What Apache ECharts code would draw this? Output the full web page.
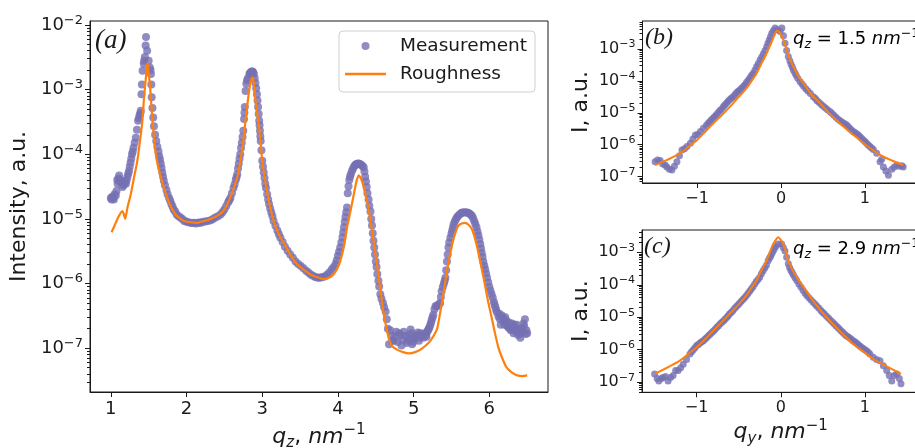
<!DOCTYPE html>
<html><head><meta charset="utf-8">
<script src="https://cdn.jsdelivr.net/npm/echarts@6/dist/echarts.min.js"></script>
<style>html,body{margin:0;padding:0;background:#fff}#c{width:915px;height:448px}</style>
</head><body><div id="c"></div>
<script>
// ---- data ----
const measA = [[1.00,2.1e-5],[1.01,2.0e-5],[1.02,2.2e-5],[1.03,2.1e-5],[1.04,2.0e-5],[1.05,2.4e-5],[1.066,2.3e-5],[1.075,2.7e-5],[1.085,4.0e-5],[1.09,3.5e-5],[1.10,4.2e-5],[1.11,4.7e-5],[1.12,3.8e-5],[1.13,4.0e-5],[1.14,3.6e-5],[1.154,3.1e-5],[1.165,3.3e-5],[1.18,3.5e-5],[1.19,3.8e-5],[1.20,3.5e-5],[1.21,4.0e-5],[1.22,4.5e-5],[1.23,5.0e-5],[1.24,5.5e-5],[1.25,6.4e-5],[1.26,7.4e-5],[1.27,8.5e-5],[1.28,1.0e-4],[1.29,1.1e-4],[1.30,1.26e-4],[1.315,1.5e-4],[1.33,1.8e-4],[1.345,2.4e-4],[1.36,3.3e-4],[1.37,3.6e-4],[1.38,4.0e-4],[1.39,4.3e-4],[1.396,4.7e-4],[1.405,8.5e-4],[1.41,1.2e-3],[1.42,1.95e-3],[1.435,2.5e-3],[1.44,2.8e-3],[1.45,3.2e-3],[1.46,4.8e-3],[1.465,6.5e-3],[1.48,4.0e-3],[1.50,2.8e-3],[1.515,2.2e-3],[1.525,2.0e-3],[1.53,1.74e-3],[1.535,1.2e-3],[1.54,7.6e-4],[1.55,5.2e-4],[1.56,3.7e-4],[1.57,2.7e-4],[1.585,2.0e-4],[1.60,1.6e-4],[1.615,1.3e-4],[1.63,1.1e-4],[1.64,9.3e-5],[1.65,8.2e-5],[1.66,7.1e-5],[1.67,6.1e-5],[1.68,5.2e-5],[1.69,4.5e-5],[1.70,3.9e-5],[1.715,3.3e-5],[1.735,2.8e-5],[1.75,2.4e-5],[1.77,2.1e-5],[1.785,1.9e-5],[1.80,1.7e-5],[1.815,1.55e-5],[1.83,1.4e-5],[1.85,1.3e-5],[1.87,1.17e-5],[1.895,1.1e-5],[1.92,1.05e-5],[1.945,1.0e-5],[1.97,9.3e-6],[1.995,9.1e-6],[2.02,8.9e-6],[2.055,8.7e-6],[2.075,8.6e-6],[2.10,8.7e-6],[2.125,8.5e-6],[2.15,8.7e-6],[2.17,8.8e-6],[2.19,8.7e-6],[2.22,9.0e-6],[2.25,9.1e-6],[2.285,9.3e-6],[2.32,9.5e-6],[2.35,1.0e-5],[2.38,1.05e-5],[2.415,1.1e-5],[2.45,1.17e-5],[2.475,1.27e-5],[2.50,1.4e-5],[2.525,1.58e-5],[2.55,1.8e-5],[2.565,1.95e-5],[2.58,2.1e-5],[2.60,2.5e-5],[2.62,3.0e-5],[2.635,3.4e-5],[2.65,4.0e-5],[2.66,4.4e-5],[2.67,4.9e-5],[2.68,6.0e-5],[2.69,7.1e-5],[2.70,8.5e-5],[2.71,1.0e-4],[2.72,1.25e-4],[2.73,1.5e-4],[2.74,1.85e-4],[2.75,2.3e-4],[2.76,3.5e-4],[2.765,4.4e-4],[2.77,5.4e-4],[2.78,9.5e-4],[2.79,1.23e-3],[2.80,1.38e-3],[2.81,1.5e-3],[2.83,1.74e-3],[2.84,1.8e-3],[2.85,1.86e-3],[2.86,1.9e-3],[2.87,1.9e-3],[2.88,1.85e-3],[2.89,1.74e-3],[2.90,1.5e-3],[2.91,1.26e-3],[2.92,1.05e-3],[2.93,8.5e-4],[2.938,6.8e-4],[2.945,5.4e-4],[2.953,4.2e-4],[2.96,3.3e-4],[2.965,2.8e-4],[2.97,2.3e-4],[2.975,1.9e-4],[2.98,1.6e-4],[2.99,1.15e-4],[3.00,7.9e-5],[3.01,6.4e-5],[3.02,5.2e-5],[3.03,4.3e-5],[3.04,3.5e-5],[3.05,3.0e-5],[3.065,2.4e-5],[3.078,2.0e-5],[3.09,1.7e-5],[3.105,1.45e-5],[3.12,1.26e-5],[3.135,1.1e-5],[3.15,9.3e-6],[3.175,7.8e-6],[3.20,6.6e-6],[3.22,5.8e-6],[3.24,5.1e-6],[3.27,4.4e-6],[3.30,3.7e-6],[3.335,3.2e-6],[3.37,2.8e-6],[3.405,2.5e-6],[3.44,2.2e-6],[3.475,2.0e-6],[3.51,1.86e-6],[3.545,1.72e-6],[3.58,1.58e-6],[3.61,1.48e-6],[3.64,1.38e-6],[3.67,1.32e-6],[3.70,1.26e-6],[3.725,1.24e-6],[3.75,1.23e-6],[3.775,1.24e-6],[3.80,1.26e-6],[3.83,1.3e-6],[3.86,1.38e-6],[3.89,1.5e-6],[3.92,1.66e-6],[3.945,1.8e-6],[3.97,2.0e-6],[3.985,2.3e-6],[4.00,2.7e-6],[4.015,3.1e-6],[4.03,3.6e-6],[4.045,4.3e-6],[4.06,5.2e-6],[4.07,6.2e-6],[4.08,7.4e-6],[4.09,9.0e-6],[4.10,1.07e-5],[4.11,1.27e-5],[4.12,1.5e-5],[4.13,2.5e-5],[4.14,3.2e-5],[4.15,4.0e-5],[4.16,4.5e-5],[4.17,4.9e-5],[4.185,5.5e-5],[4.20,6.0e-5],[4.215,6.5e-5],[4.23,6.8e-5],[4.24,7.0e-5],[4.255,7.1e-5],[4.27,7.2e-5],[4.28,7.1e-5],[4.295,7.0e-5],[4.31,6.8e-5],[4.325,6.6e-5],[4.34,6.3e-5],[4.35,5.4e-5],[4.36,4.5e-5],[4.37,3.8e-5],[4.38,3.1e-5],[4.39,2.5e-5],[4.405,2.0e-5],[4.415,1.6e-5],[4.43,1.3e-5],[4.44,1.0e-5],[4.45,7.9e-6],[4.46,6.0e-6],[4.47,4.6e-6],[4.48,3.6e-6],[4.49,2.8e-6],[4.50,2.2e-6],[4.51,1.8e-6],[4.52,1.4e-6],[4.535,1.1e-6],[4.545,9.0e-7],[4.56,6.8e-7],[4.575,5.8e-7],[4.595,5.0e-7],[4.61,4.3e-7],[4.63,3.7e-7],[4.645,2.8e-7],[4.66,2.0e-7],[4.675,1.15e-7],[4.69,1.9e-7],[4.71,1.55e-7],[4.72,1.3e-7],[4.74,1.3e-7],[4.755,1.55e-7],[4.77,1.8e-7],[4.79,1.25e-7],[4.81,1.7e-7],[4.825,1.6e-7],[4.84,1.1e-7],[4.855,1.35e-7],[4.87,1.8e-7],[4.89,1.55e-7],[4.91,1.2e-7],[4.925,1.3e-7],[4.94,1.6e-7],[4.95,1.4e-7],[4.96,1.95e-7],[4.97,1.7e-7],[4.98,1.15e-7],[4.995,1.25e-7],[5.01,1.4e-7],[5.025,1.5e-7],[5.04,1.6e-7],[5.055,1.75e-7],[5.07,1.3e-7],[5.08,1.45e-7],[5.09,1.7e-7],[5.11,1.55e-7],[5.13,1.45e-7],[5.145,1.7e-7],[5.16,1.6e-7],[5.17,1.5e-7],[5.18,1.8e-7],[5.19,1.9e-7],[5.20,2.0e-7],[5.21,2.1e-7],[5.22,2.3e-7],[5.23,2.5e-7],[5.24,2.75e-7],[5.25,3.0e-7],[5.26,3.3e-7],[5.275,4.0e-7],[5.29,4.5e-7],[5.305,4.4e-7],[5.32,4.6e-7],[5.335,4.8e-7],[5.35,5.0e-7],[5.36,6.2e-7],[5.37,7.6e-7],[5.385,8.8e-7],[5.40,1.0e-6],[5.41,1.1e-6],[5.42,1.23e-6],[5.43,1.6e-6],[5.44,2.2e-6],[5.45,2.8e-6],[5.46,3.6e-6],[5.47,4.3e-6],[5.485,5.1e-6],[5.50,5.9e-6],[5.51,6.6e-6],[5.52,7.4e-6],[5.53,8.3e-6],[5.545,9.2e-6],[5.56,1.0e-5],[5.575,1.07e-5],[5.59,1.12e-5],[5.61,1.18e-5],[5.63,1.23e-5],[5.645,1.25e-5],[5.66,1.26e-5],[5.68,1.27e-5],[5.70,1.26e-5],[5.72,1.24e-5],[5.74,1.2e-5],[5.755,1.16e-5],[5.77,1.12e-5],[5.785,1.03e-5],[5.80,9.3e-6],[5.815,8.3e-6],[5.83,7.4e-6],[5.843,6.4e-6],[5.855,5.6e-6],[5.868,4.8e-6],[5.88,4.1e-6],[5.89,3.5e-6],[5.90,3.0e-6],[5.91,2.6e-6],[5.92,2.2e-6],[5.933,1.9e-6],[5.945,1.66e-6],[5.958,1.43e-6],[5.97,1.23e-6],[5.985,1.05e-6],[6.00,8.9e-7],[6.015,7.8e-7],[6.03,6.8e-7],[6.045,6.0e-7],[6.06,5.2e-7],[6.07,4.7e-7],[6.08,4.3e-7],[6.09,3.9e-7],[6.10,3.6e-7],[6.12,3.1e-7],[6.13,3.4e-7],[6.14,2.8e-7],[6.15,2.3e-7],[6.165,3.2e-7],[6.18,2.9e-7],[6.19,2.6e-7],[6.20,2.3e-7],[6.21,3.0e-7],[6.22,2.7e-7],[6.23,2.5e-7],[6.24,2.2e-7],[6.25,2.1e-7],[6.26,2.5e-7],[6.27,2.0e-7],[6.285,1.9e-7],[6.30,2.4e-7],[6.31,2.1e-7],[6.32,1.7e-7],[6.33,2.3e-7],[6.34,2.0e-7],[6.35,1.8e-7],[6.36,2.3e-7],[6.37,2.0e-7],[6.38,1.6e-7],[6.395,1.8e-7],[6.41,1.45e-7],[6.42,1.7e-7],[6.43,2.0e-7],[6.44,1.9e-7],[6.45,2.4e-7],[6.46,2.2e-7],[6.47,2.8e-7],[6.48,1.66e-7],[6.49,1.9e-7],[6.50,1.7e-7]];

const roughA = [[1.01,6.2e-6],[1.05,7.9e-6],[1.10,1.07e-5],[1.15,1.32e-5],[1.17,1.2e-5],[1.19,1.0e-5],[1.22,1.5e-5],[1.264,2.4e-5],[1.30,4.0e-5],[1.35,7.9e-5],[1.39,1.78e-4],[1.417,3.3e-4],[1.44,7.9e-4],[1.46,1.38e-3],[1.475,2.2e-3],[1.484,2.6e-3],[1.495,2.0e-3],[1.519,1.1e-3],[1.55,3.3e-4],[1.594,1.0e-4],[1.66,4.4e-5],[1.748,2.1e-5],[1.80,1.5e-5],[1.856,1.17e-5],[1.90,1.05e-5],[1.967,9.3e-6],[2.05,8.9e-6],[2.14,8.7e-6],[2.20,9.1e-6],[2.27,9.5e-6],[2.34,1.02e-5],[2.41,1.12e-5],[2.48,1.3e-5],[2.54,1.7e-5],[2.60,2.5e-5],[2.67,4.4e-5],[2.74,1.3e-4],[2.80,5.4e-4],[2.84,1.2e-3],[2.87,1.55e-3],[2.89,1.26e-3],[2.91,6.8e-4],[2.96,2.6e-4],[3.00,7.9e-5],[3.07,2.4e-5],[3.15,9.3e-6],[3.22,5.8e-6],[3.29,4.1e-6],[3.38,2.7e-6],[3.46,2.0e-6],[3.55,1.62e-6],[3.64,1.38e-6],[3.72,1.26e-6],[3.81,1.17e-6],[3.88,1.23e-6],[3.94,1.38e-6],[3.99,1.7e-6],[4.03,2.2e-6],[4.08,3.8e-6],[4.12,7.4e-6],[4.165,1.3e-5],[4.21,2.4e-5],[4.245,3.8e-5],[4.275,4.7e-5],[4.305,4.2e-5],[4.34,3.1e-5],[4.41,1.32e-5],[4.47,4.6e-6],[4.54,1.23e-6],[4.60,3.7e-7],[4.67,1.45e-7],[4.72,1.07e-7],[4.78,9.5e-8],[4.86,8.7e-8],[4.94,8.3e-8],[5.02,8.7e-8],[5.09,9.5e-8],[5.16,1.1e-7],[5.22,1.3e-7],[5.27,1.6e-7],[5.31,2.0e-7],[5.34,3.0e-7],[5.37,4.8e-7],[5.405,8.5e-7],[5.44,1.55e-6],[5.475,2.6e-6],[5.51,4.1e-6],[5.55,6.0e-6],[5.59,7.8e-6],[5.635,8.5e-6],[5.68,8.7e-6],[5.725,8.1e-6],[5.77,6.9e-6],[5.81,5.0e-6],[5.85,3.2e-6],[5.895,1.8e-6],[5.94,9.8e-7],[5.985,5.2e-7],[6.03,3.0e-7],[6.075,1.7e-7],[6.12,1.02e-7],[6.175,6.8e-8],[6.23,5.0e-8],[6.30,4.2e-8],[6.37,3.8e-8],[6.44,3.7e-8],[6.50,3.8e-8]];

const measB = [[-1.50,2.9e-7],[-1.47,3.3e-7],[-1.44,3.2e-7],[-1.41,2.5e-7],[-1.38,2.3e-7],[-1.36,2.0e-7],[-1.33,1.7e-7],[-1.30,1.6e-7],[-1.27,2.1e-7],[-1.24,2.9e-7],[-1.21,4.5e-7],[-1.18,6.8e-7],[-1.15,7.5e-7],[-1.12,8.7e-7],[-1.08,1.1e-6],[-1.05,1.5e-6],[-1.02,2.0e-6],[-0.99,2.1e-6],[-0.96,2.6e-6],[-0.925,3.3e-6],[-0.89,4.0e-6],[-0.87,4.6e-6],[-0.85,5.2e-6],[-0.83,6.0e-6],[-0.806,6.8e-6],[-0.79,7.7e-6],[-0.77,8.7e-6],[-0.75,1.0e-5],[-0.73,1.15e-5],[-0.71,1.3e-5],[-0.687,1.55e-5],[-0.67,1.75e-5],[-0.65,2.0e-5],[-0.63,2.3e-5],[-0.61,2.6e-5],[-0.59,2.9e-5],[-0.568,3.2e-5],[-0.55,3.7e-5],[-0.53,4.2e-5],[-0.51,4.7e-5],[-0.49,5.2e-5],[-0.47,5.9e-5],[-0.449,6.6e-5],[-0.43,7.6e-5],[-0.41,9.0e-5],[-0.39,1.05e-4],[-0.37,1.25e-4],[-0.35,1.5e-4],[-0.33,1.74e-4],[-0.31,2.2e-4],[-0.29,2.8e-4],[-0.27,3.5e-4],[-0.25,4.5e-4],[-0.23,5.6e-4],[-0.21,7.0e-4],[-0.19,9.0e-4],[-0.17,1.18e-3],[-0.155,1.5e-3],[-0.14,1.9e-3],[-0.125,2.4e-3],[-0.11,3.1e-3],[-0.09,3.8e-3],[-0.07,4.5e-3],[-0.04,4.0e-3],[-0.01,3.5e-3],[0.01,4.5e-3],[0.03,2.6e-3],[0.048,1.5e-3],[0.067,9.0e-4],[0.087,5.8e-4],[0.105,4.3e-4],[0.12,3.3e-4],[0.135,2.7e-4],[0.147,2.2e-4],[0.165,1.8e-4],[0.18,1.5e-4],[0.20,1.2e-4],[0.226,9.5e-5],[0.25,8.0e-5],[0.27,6.8e-5],[0.295,5.7e-5],[0.32,4.8e-5],[0.35,4.0e-5],[0.385,3.2e-5],[0.41,2.8e-5],[0.43,2.4e-5],[0.455,2.1e-5],[0.48,1.8e-5],[0.505,1.6e-5],[0.53,1.4e-5],[0.555,1.25e-5],[0.583,1.1e-5],[0.605,9.6e-6],[0.63,8.3e-6],[0.655,7.2e-6],[0.68,6.3e-6],[0.705,5.6e-6],[0.73,5.0e-6],[0.755,4.6e-6],[0.78,4.2e-6],[0.80,3.7e-6],[0.82,3.2e-6],[0.84,2.9e-6],[0.86,2.6e-6],[0.88,2.4e-6],[0.90,2.2e-6],[0.92,2.0e-6],[0.94,1.8e-6],[0.96,1.6e-6],[0.98,1.4e-6],[1.00,1.25e-6],[1.02,1.1e-6],[1.04,9.8e-7],[1.06,8.7e-7],[1.08,7.8e-7],[1.10,7.0e-7],[1.14,5.4e-7],[1.18,2.9e-7],[1.20,3.5e-7],[1.22,2.0e-7],[1.25,1.5e-7],[1.28,1.1e-7],[1.32,1.7e-7],[1.35,2.0e-7],[1.38,2.3e-7],[1.41,2.1e-7],[1.44,2.2e-7],[1.456,2.0e-7]];

const roughB = [[-1.50,2.3e-7],[-1.35,3.4e-7],[-1.20,5.4e-7],[-1.10,8.7e-7],[-1.00,1.4e-6],[-0.90,2.6e-6],[-0.806,4.7e-6],[-0.70,8.7e-6],[-0.607,1.55e-5],[-0.50,3.2e-5],[-0.41,5.9e-5],[-0.35,1.0e-4],[-0.29,1.74e-4],[-0.24,3.2e-4],[-0.19,5.8e-4],[-0.15,1.0e-3],[-0.11,1.7e-3],[-0.08,2.6e-3],[-0.05,3.7e-3],[-0.03,3.6e-3],[0.01,2.4e-3],[0.04,1.6e-3],[0.068,9.3e-4],[0.10,5.2e-4],[0.147,2.8e-4],[0.20,1.5e-4],[0.265,8.5e-5],[0.36,3.8e-5],[0.464,2.0e-5],[0.58,9.3e-6],[0.70,4.7e-6],[0.82,2.5e-6],[0.94,1.4e-6],[1.06,7.9e-7],[1.18,4.8e-7],[1.32,3.2e-7],[1.456,2.3e-7]];

const measC = [[-1.50,1.8e-7],[-1.47,1.3e-7],[-1.45,1.1e-7],[-1.42,1.3e-7],[-1.40,1.4e-7],[-1.37,1.5e-7],[-1.34,1.1e-7],[-1.31,1.4e-7],[-1.28,1.6e-7],[-1.25,2.3e-7],[-1.22,2.3e-7],[-1.19,2.8e-7],[-1.16,3.6e-7],[-1.12,5.0e-7],[-1.08,7.4e-7],[-1.06,8.6e-7],[-1.04,1.0e-6],[-1.02,1.15e-6],[-1.00,1.35e-6],[-0.98,1.45e-6],[-0.96,1.6e-6],[-0.94,1.75e-6],[-0.92,1.9e-6],[-0.90,2.15e-6],[-0.88,2.4e-6],[-0.86,2.7e-6],[-0.84,3.0e-6],[-0.82,3.4e-6],[-0.80,3.8e-6],[-0.78,4.3e-6],[-0.76,4.9e-6],[-0.74,5.5e-6],[-0.72,6.3e-6],[-0.70,7.0e-6],[-0.68,7.8e-6],[-0.66,8.9e-6],[-0.64,1.0e-5],[-0.625,1.12e-5],[-0.61,1.26e-5],[-0.59,1.4e-5],[-0.57,1.6e-5],[-0.55,1.85e-5],[-0.53,2.1e-5],[-0.51,2.4e-5],[-0.49,2.7e-5],[-0.47,3.1e-5],[-0.45,3.5e-5],[-0.43,4.0e-5],[-0.41,4.6e-5],[-0.39,5.4e-5],[-0.37,6.3e-5],[-0.35,7.4e-5],[-0.33,8.7e-5],[-0.31,1.05e-4],[-0.29,1.25e-4],[-0.27,1.45e-4],[-0.25,1.7e-4],[-0.23,2.2e-4],[-0.21,2.7e-4],[-0.19,3.3e-4],[-0.17,4.0e-4],[-0.15,5.5e-4],[-0.135,6.5e-4],[-0.12,7.6e-4],[-0.105,9.2e-4],[-0.09,1.1e-3],[-0.075,1.3e-3],[-0.06,1.5e-3],[-0.03,1.8e-3],[0.01,1.8e-3],[0.03,1.4e-3],[0.05,1.1e-3],[0.07,7.0e-4],[0.09,4.4e-4],[0.105,3.4e-4],[0.12,2.8e-4],[0.135,2.4e-4],[0.15,2.0e-4],[0.17,1.65e-4],[0.19,1.35e-4],[0.215,1.05e-4],[0.24,8.5e-5],[0.265,6.8e-5],[0.29,5.5e-5],[0.31,4.7e-5],[0.335,4.0e-5],[0.36,3.4e-5],[0.385,2.9e-5],[0.41,2.5e-5],[0.43,2.2e-5],[0.455,1.9e-5],[0.48,1.6e-5],[0.50,1.4e-5],[0.52,1.25e-5],[0.545,1.08e-5],[0.57,9.3e-6],[0.595,8.0e-6],[0.62,6.9e-6],[0.64,6.1e-6],[0.66,5.4e-6],[0.68,4.8e-6],[0.70,4.3e-6],[0.72,3.8e-6],[0.74,3.4e-6],[0.76,3.0e-6],[0.78,2.7e-6],[0.80,2.5e-6],[0.82,2.3e-6],[0.84,2.1e-6],[0.86,1.9e-6],[0.88,1.75e-6],[0.90,1.6e-6],[0.92,1.45e-6],[0.94,1.3e-6],[0.96,1.2e-6],[0.98,1.1e-6],[1.00,1.0e-6],[1.02,9.3e-7],[1.04,8.3e-7],[1.06,7.4e-7],[1.10,5.9e-7],[1.14,5.0e-7],[1.18,4.6e-7],[1.22,3.2e-7],[1.26,2.3e-7],[1.29,1.6e-7],[1.32,1.1e-7],[1.35,1.6e-7],[1.38,1.8e-7],[1.41,1.3e-7],[1.43,9e-8]];

const roughC = [[-1.50,1.8e-7],[-1.35,2.8e-7],[-1.20,4.6e-7],[-1.10,7.4e-7],[-1.00,1.2e-6],[-0.90,2.1e-6],[-0.80,3.9e-6],[-0.70,7.1e-6],[-0.61,1.26e-5],[-0.50,2.5e-5],[-0.41,4.6e-5],[-0.35,7.9e-5],[-0.29,1.34e-4],[-0.23,2.75e-4],[-0.17,5.5e-4],[-0.13,1.0e-3],[-0.09,1.8e-3],[-0.05,2.6e-3],[-0.03,2.9e-3],[0.00,2.4e-3],[0.03,1.8e-3],[0.06,1.05e-3],[0.09,5.5e-4],[0.13,3.2e-4],[0.19,1.7e-4],[0.28,7.9e-5],[0.385,3.2e-5],[0.50,1.35e-5],[0.62,6.2e-6],[0.74,3.0e-6],[0.86,1.5e-6],[0.98,8.9e-7],[1.10,5.2e-7],[1.26,3.1e-7],[1.43,1.8e-7]];

const xTicksA = [1, 2, 3, 4, 5, 6];
const xTicksBC = [-1, 0, 1];
const yTicksA = [1e-7, 1e-6, 1e-5, 1e-4, 1e-3, 1e-2];
const yTicksBC = [1e-7, 1e-6, 1e-5, 1e-4, 1e-3];
const seriesNames = ['Measurement', 'Roughness'];
const panelTags = ['(a)', '(b)', '(c)'];
const qzValues = ['1.5', '2.9'];

// ---- styling helpers ----
const FONT = '"DejaVu Sans", sans-serif';
const INK = '#1a1a1a';
const PURPLE = '#7570b3';
const ORANGE = '#ff7f0e';

function minorValues(lo, hi) {
  const out = [];
  for (let e = -9; e <= -1; e++) for (let k = 2; k <= 9; k++) {
    const v = k * Math.pow(10, e);
    if (v > lo && v < hi) out.push(v);
  }
  return out;
}
function powLabel(v) {
  const e = Math.round(Math.log10(v));
  return '{n|10}{s|' + (e < 0 ? '\u2212' : '') + Math.abs(e) + '}';
}
function numLabel(v) { return v < 0 ? '\u2212' + (-v) : String(v); }
function powRich(fs) {
  return {
    n: {fontSize: fs, fontFamily: FONT, color: INK, lineHeight: fs + 4, verticalAlign: 'middle'},
    s: {fontSize: Math.round(fs * 0.7), fontFamily: FONT, color: INK, lineHeight: Math.round(fs * 0.7), verticalAlign: 'top'}
  };
}
function mathRich(fs, sfs) {
  return {
    i: {fontSize: fs, fontFamily: FONT, fontStyle: 'italic', color: INK, lineHeight: fs + 6, verticalAlign: 'middle'},
    t: {fontSize: fs, fontFamily: FONT, color: INK, lineHeight: fs + 6, verticalAlign: 'middle'},
    sub: {fontSize: sfs, fontFamily: FONT, fontStyle: 'italic', color: INK, lineHeight: sfs, verticalAlign: 'bottom'},
    sup: {fontSize: sfs, fontFamily: FONT, color: INK, lineHeight: sfs, verticalAlign: 'top'}
  };
}
const lineSt = {color: INK, width: 1};

function xAxisDef(grid, min, max, ticks, fs, nameText, gap) {
  return {
    type: 'value', gridIndex: grid, min: min, max: max,
    splitLine: {show: false},
    axisLine: {show: true, onZero: false, lineStyle: lineSt},
    axisTick: {show: true, length: 5, lineStyle: lineSt, customValues: ticks},
    axisLabel: {customValues: ticks, formatter: numLabel, fontSize: fs, fontFamily: FONT, color: INK, margin: 8},
    name: nameText, nameLocation: 'middle', nameGap: gap,
    nameTextStyle: {rich: mathRich(22, 15)}
  };
}
function yAxisDef(grid, min, max, ticks, fs, nameText, gap) {
  return {
    type: 'log', logBase: 10, gridIndex: grid, min: min, max: max, position: 'left',
    splitLine: {show: false},
    axisLine: {show: true, onZero: false, lineStyle: lineSt},
    axisTick: {show: true, length: 5, lineStyle: lineSt, customValues: ticks},
    axisLabel: {customValues: ticks, formatter: powLabel, rich: powRich(fs), margin: 7},
    name: nameText, nameLocation: 'middle', nameGap: gap, nameRotate: 90,
    nameTextStyle: {fontSize: 22, fontFamily: FONT, color: INK}
  };
}
function yMinorDef(grid, min, max) {
  return {
    type: 'log', logBase: 10, gridIndex: grid, min: min, max: max, position: 'left',
    splitLine: {show: false}, axisLine: {show: false, onZero: false},
    axisTick: {show: true, length: 3, lineStyle: lineSt, customValues: minorValues(min, max)},
    axisLabel: {show: false}
  };
}

const chart = echarts.init(document.getElementById('c'), null, {renderer: 'canvas'});
const gridBox = {show: true, borderColor: INK, borderWidth: 1, backgroundColor: '#fff', containLabel: false, outerBoundsMode: 'none'};
const option = {
  animation: false,
  backgroundColor: '#fff',
  grid: [
    Object.assign({left: 90, top: 21, width: 458, height: 371}, gridBox),
    Object.assign({left: 642.5, top: 21, width: 277, height: 162}, gridBox),
    Object.assign({left: 642, top: 230, width: 277.5, height: 162.3}, gridBox)
  ],
  xAxis: [
    xAxisDef(0, 0.725, 6.775, xTicksA, 18, '{i|q}{sub|z}{t|, }{i|nm}{sup|\u22121}', 31),
    xAxisDef(1, -1.65, 1.65, xTicksBC, 16, '', 30),
    xAxisDef(2, -1.65, 1.65, xTicksBC, 16, '{i|q}{sub|y}{t|, }{i|nm}{sup|\u22121}', 26)
  ],
  yAxis: [
    yAxisDef(0, 2.1e-8, 1.15e-2, yTicksA, 18, 'Intensity, a.u.', 57),
    yMinorDef(0, 2.1e-8, 1.15e-2),
    yAxisDef(1, 6.3e-8, 7.5e-3, yTicksBC, 16, 'I, a.u.', 50),
    yMinorDef(1, 6.3e-8, 7.5e-3),
    yAxisDef(2, 4.9e-8, 4.85e-3, yTicksBC, 16, 'I, a.u.', 50),
    yMinorDef(2, 4.9e-8, 4.85e-3)
  ],
  legend: {
    left: 339, top: 31, orient: 'vertical',
    data: [{name: seriesNames[0], icon: 'circle'}, {name: seriesNames[1], icon: 'path://M0,0H41V2.3H0Z'}],
    itemWidth: 41, itemHeight: 8, itemGap: 8,
    padding: [5, 8, 8, 6],
    backgroundColor: '#fff', borderColor: '#cfcfcf', borderWidth: 1, borderRadius: 4,
    textStyle: {fontSize: 18.5, fontFamily: FONT, color: INK, lineHeight: 20, padding: [0, 0, 0, 9]},
    selectedMode: false
  },
  graphic: [
    {type: 'text', x: 95, y: 41, z: 100, style: {text: panelTags[0], font: 'italic 27px "Liberation Serif"', fill: INK, verticalAlign: 'middle'}},
    {type: 'text', x: 645, y: 38, z: 100, style: {text: panelTags[1], font: 'italic 24px "Liberation Serif"', fill: INK, verticalAlign: 'middle'}},
    {type: 'text', x: 644, y: 247, z: 100, style: {text: panelTags[2], font: 'italic 24px "Liberation Serif"', fill: INK, verticalAlign: 'middle'}},
    {type: 'text', x: 793, y: 39, z: 100, style: {text: '{i|q}{sub|z}{t| = ' + qzValues[0] + ' }{i|nm}{sup|\u22121}', rich: mathRich(18, 12.5), verticalAlign: 'middle'}},
    {type: 'text', x: 793, y: 249, z: 100, style: {text: '{i|q}{sub|z}{t| = ' + qzValues[1] + ' }{i|nm}{sup|\u22121}', rich: mathRich(18, 12.5), verticalAlign: 'middle'}}
  ],
  series: [
    {type: 'scatter', name: seriesNames[0], xAxisIndex: 0, yAxisIndex: 0, data: measA, symbolSize: 8, itemStyle: {color: PURPLE}, z: 2},
    {type: 'line', name: seriesNames[1], xAxisIndex: 0, yAxisIndex: 0, data: roughA, symbol: 'none', showSymbol: false, smooth: 0.2, lineStyle: {color: ORANGE, width: 2.2}, itemStyle: {color: ORANGE}, z: 3},
    {type: 'scatter', name: seriesNames[0], xAxisIndex: 1, yAxisIndex: 2, data: measB, symbolSize: 7, itemStyle: {color: PURPLE}, z: 2},
    {type: 'line', name: seriesNames[1], xAxisIndex: 1, yAxisIndex: 2, data: roughB, symbol: 'none', showSymbol: false, smooth: 0.3, lineStyle: {color: ORANGE, width: 2}, itemStyle: {color: ORANGE}, z: 3},
    {type: 'scatter', name: seriesNames[0], xAxisIndex: 2, yAxisIndex: 4, data: measC, symbolSize: 7, itemStyle: {color: PURPLE}, z: 2},
    {type: 'line', name: seriesNames[1], xAxisIndex: 2, yAxisIndex: 4, data: roughC, symbol: 'none', showSymbol: false, smooth: 0.3, lineStyle: {color: ORANGE, width: 2}, itemStyle: {color: ORANGE}, z: 3}
  ]
};
chart.setOption(option);
</script></body></html>
